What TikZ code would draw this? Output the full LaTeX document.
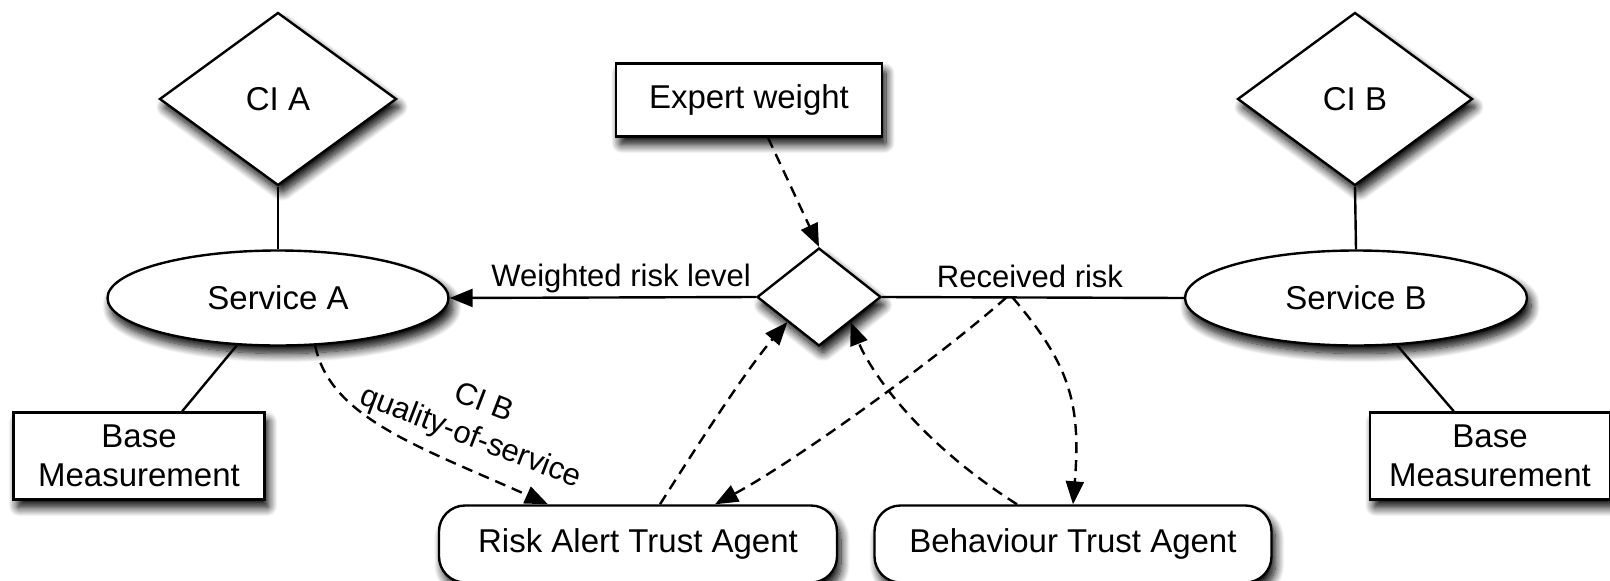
\documentclass[tikz,border=0pt]{standalone}
\usepackage{fontspec}
\setmainfont{Liberation Sans}
\usetikzlibrary{shapes.geometric,arrows.meta,calc,shadows.blur}

\tikzset{
  shape base/.style={draw, line width=2.4pt, fill=white, inner sep=0pt,
    blur shadow={shadow xshift=4pt, shadow yshift=-8pt,
                 shadow blur radius=9pt, shadow blur extra rounding=2pt,
                 shadow opacity=100, shadow blur steps=12},
    font=\fontsize{33}{39}\selectfont},
  gem/.style={shape base, diamond},
  oval/.style={shape base, ellipse},
  box/.style={shape base, rectangle, align=center},
  agent/.style={shape base, rectangle, rounded corners=26pt},
  link/.style={line width=2.4pt},
  flow/.style={line width=2.4pt, dash pattern=on 11pt off 7pt,
    -{Triangle[length=23pt,width=18pt]}},
  solidflow/.style={line width=2.4pt, -{Triangle[length=23pt,width=18pt]}},
  lbl/.style={font=\fontsize{31}{37}\selectfont, inner sep=0pt},
}

\begin{document}
\begin{tikzpicture}[x=1pt,y=-1pt]
\useasboundingbox (0,0) rectangle (1610,581);

% configuration items
\node[gem, minimum width=237pt, minimum height=173pt] (CIA) at (278,99) {CI A};
\node[gem, minimum width=235pt, minimum height=173pt] (CIB) at (1355,99) {CI B};

% expert input
\node[box, minimum width=266pt, minimum height=73pt] (Expert) at (749,100) {Expert weight};

% services
\node[oval, minimum width=341pt, minimum height=95pt] (ServA) at (278,298) {Service A};
\node[oval, minimum width=342pt, minimum height=95pt] (ServB) at (1356,298) {Service B};

% risk combination point
\node[gem, minimum width=124pt, minimum height=98pt] (D) at (819,297) {};

% base measurements
\node[box, minimum width=251pt, minimum height=87pt] (BaseA) at (139,456) {Base\\Measurement};
\node[box, minimum width=240pt, minimum height=87pt] (BaseB) at (1490,456) {Base\\Measurement};

% trust agents
\node[agent, minimum width=398pt, minimum height=77pt] (RiskAgent) at (638,544) {Risk Alert Trust Agent};
\node[agent, minimum width=397pt, minimum height=77pt] (BehAgent) at (1073,544) {Behaviour Trust Agent};

% structural links
\draw[link] (CIA.south) -- (ServA.north);
\draw[link] (CIB.south) -- (ServB.north);
\draw[link] (ServA.229) -- (BaseA.46);
\draw[link] (ServB.311) -- (BaseB.129);

% risk flows
\draw[solidflow] (D.west) -- node[lbl, pos=0.44, anchor=base, yshift=11pt] {Weighted risk level} (ServA.east);
\draw[link] (D.east) -- node[lbl, pos=0.49, anchor=base, yshift=10pt] {Received risk} (ServB.west);
\coordinate (r1) at ($(D.east)!0.412!(ServB.west)$);
\coordinate (r2) at ($(D.east)!0.432!(ServB.west)$);

\draw[flow] ([xshift=19pt]Expert.south) -- (D.north);

\draw[flow] (r1) .. controls +(-70,62) and +(80,-43) .. ([xshift=77pt]RiskAgent.north);
\draw[flow] (r2) .. controls +(58,68) and +(8,-100) .. (BehAgent.north);

\draw[flow] ([xshift=22pt]RiskAgent.north) .. controls +(38,-60) and +(-40,46) .. (D.south west);
\draw[flow] ([xshift=-56pt]BehAgent.north) .. controls +(-110,-70) and +(15,38) .. (D.south east);

\draw[flow] (ServA.-52) .. controls +(15,72) and +(-130,-58) .. ([xshift=-90pt]RiskAgent.north);
\node[lbl, rotate=-21, align=center] (qos) at (477,421) {CI B\\quality-of-service};

\end{tikzpicture}
\end{document}
